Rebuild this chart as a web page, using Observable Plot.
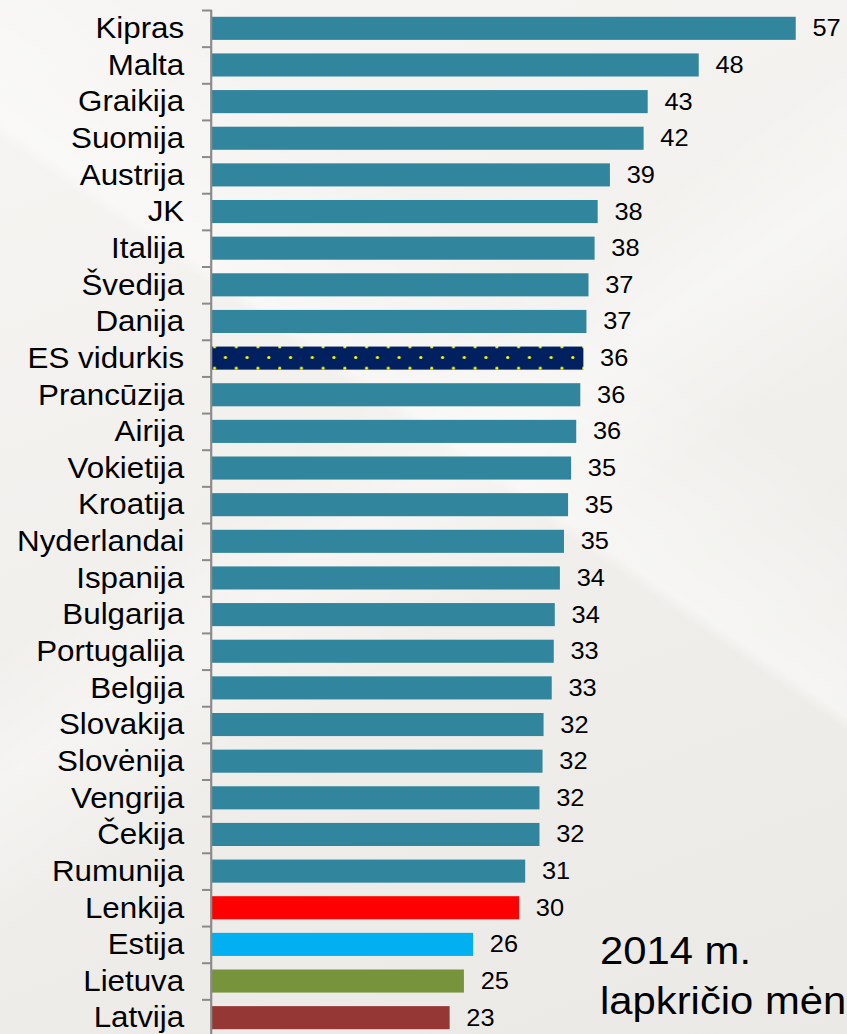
<!DOCTYPE html>
<html>
<head>
<meta charset="utf-8">
<script src="https://cdn.jsdelivr.net/npm/d3@7"></script>
<script src="https://cdn.jsdelivr.net/npm/@observablehq/plot@0.6"></script>
<style>
  html, body { margin: 0; padding: 0; overflow: hidden; width: 847px; height: 1034px; }
  body {
    position: relative;
    color: #000;
    font-family: "Liberation Sans", Arial, sans-serif;
    background:
      linear-gradient(35deg, rgba(255,255,255,0) 0%, rgba(255,255,255,0) 55%, rgba(255,255,255,0.45) 56%, rgba(255,255,255,0) 70%),
      linear-gradient(145deg, rgba(255,255,255,0) 40%, rgba(255,255,255,0.35) 48%, rgba(255,255,255,0) 58%),
      linear-gradient(160deg, #f6f5f3 0%, #f1f0ed 45%, #ebe9e5 100%);
  }
  #chart { position: absolute; left: 0; top: 0; transform-origin: 0 0; }
  #chart svg, #chart svg text { font-family: "Liberation Sans", Arial, sans-serif !important; }
  #note {
    position: absolute; left: 600px; top: 926px;
    font-size: 38px; line-height: 50px; white-space: nowrap;
    transform-origin: 0 0; transform: scaleX(1.1);
  }
</style>
</head>
<body>
<svg width="0" height="0" style="position:absolute">
  <defs>
    <pattern id="dots" patternUnits="userSpaceOnUse" width="20.1" height="21.3">
      <rect width="20.1" height="21.3" fill="#002060"></rect>
      <circle cx="1.6" cy="1.5" r="1.5" fill="#ffff00"></circle>
      <circle cx="11.65" cy="12.15" r="1.5" fill="#ffff00"></circle>
    </pattern>
  </defs>
</svg>
<div id="chart"></div>
<div id="note">2014 m.<br>lapkričio mėn.</div>
<script>
const countries = ["Kipras","Malta","Graikija","Suomija","Austrija","JK","Italija","Švedija","Danija","ES vidurkis","Prancūzija","Airija","Vokietija","Kroatija","Nyderlandai","Ispanija","Bulgarija","Portugalija","Belgija","Slovakija","Slovėnija","Vengrija","Čekija","Rumunija","Lenkija","Estija","Lietuva","Latvija"];
const values = [57.2,47.7,42.7,42.3,39.0,37.8,37.5,36.9,36.7,36.4,36.1,35.7,35.2,34.9,34.5,34.1,33.6,33.5,33.3,32.5,32.4,32.1,32.1,30.7,30.1,25.6,24.7,23.3];
const labels = [57,48,43,42,39,38,38,37,37,36,36,36,35,35,35,34,34,33,33,32,32,32,32,31,30,26,25,23];
const TEAL = "#31859c";
const colors = [TEAL,TEAL,TEAL,TEAL,TEAL,TEAL,TEAL,TEAL,TEAL,"pattern",TEAL,TEAL,TEAL,TEAL,TEAL,TEAL,TEAL,TEAL,TEAL,TEAL,TEAL,TEAL,TEAL,TEAL,"#ff0000","#00b0f0","#77933c","#953735"];

const data = countries.map((c, i) => ({country: c, value: values[i], label: labels[i], color: colors[i]}));

const FONT = "Liberation Sans, Arial, sans-serif";
const STRETCH = 847 / 784;
const W = 784, H = 1036, MT = 10;
const step = (H - MT) / countries.length;

const chart = Plot.plot({
  width: W,
  height: H,
  marginLeft: 196,
  marginRight: 21,
  marginTop: MT,
  marginBottom: 0,
  style: {background: "transparent", fontFamily: FONT, overflow: "visible", color: "#000"},
  x: {domain: [0, 60], axis: null},
  y: {type: "band", domain: countries, paddingInner: 0.37, paddingOuter: 0.185, round: false, axis: null},
  marks: [
    Plot.barX(data.filter(d => d.color !== "pattern"), {x: "value", y: "country", fill: "color"}),
    Plot.barX(data.filter(d => d.color === "pattern"), {x: "value", y: "country", fill: "url(#dots)"}),
    Plot.ruleX([0], {stroke: "#8a8a8a", strokeWidth: 2, dx: -1}),
    Plot.axisY({anchor: "left", label: null, tickSize: 0, tickPadding: 26, fontSize: 29, fontFamily: FONT, fill: "#000"}),
    Plot.axisY({anchor: "left", label: null, tickSize: 9, tickFormat: () => "", dy: -step / 2, stroke: "#8a8a8a", strokeWidth: 2}),
    Plot.text(data, {x: "value", y: "country", text: "label", dx: 15, textAnchor: "start", fontSize: 23.5, fontFamily: FONT, fill: "#000"})
  ]
});

const holder = document.getElementById("chart");
holder.appendChild(chart);
holder.style.transform = `scaleX(${STRETCH})`;

// align the dot pattern with the ES bar
const bars = chart.querySelectorAll('g[aria-label="bar"]');
const esRect = bars[bars.length - 1].querySelector("rect");
if (esRect) {
  const px = +esRect.getAttribute("x") || 0;
  const py = +esRect.getAttribute("y") || 0;
  const pat = document.getElementById("dots");
  pat.setAttribute("x", px + 1);
  pat.setAttribute("y", py - 1.2);
}
</script>
</body>
</html>
